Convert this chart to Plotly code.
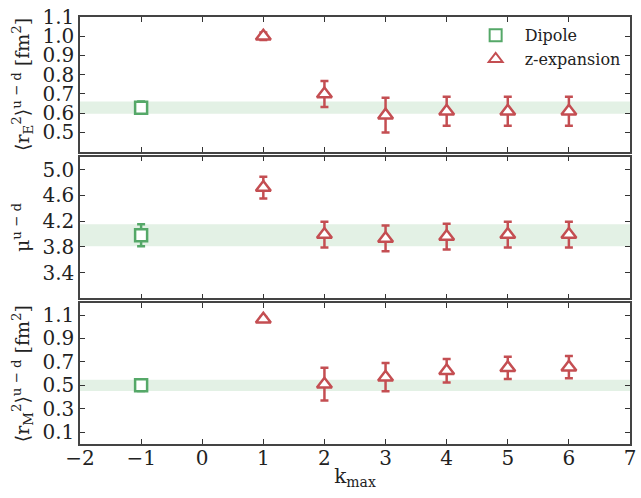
import plotly.graph_objects as go
from plotly.subplots import make_subplots

# ---- data ----
kmax = [1, 2, 3, 4, 5, 6]
dipole_x = [-1]

rE_dip = [0.629]
rE_dip_err = [0.032]
rE_z = [1.0, 0.70, 0.59, 0.61, 0.61, 0.61]
rE_z_err = [0.02, 0.068, 0.09, 0.075, 0.075, 0.075]

mu_dip = [3.98]
mu_dip_err = [0.17]
mu_z = [4.72, 3.99, 3.93, 3.96, 3.99, 3.99]
mu_z_err = [0.17, 0.20, 0.20, 0.20, 0.20, 0.20]

rM_dip = [0.50]
rM_dip_err = [0.047]
rM_z = [1.064, 0.51, 0.57, 0.625, 0.65, 0.655]
rM_z_err = [0.02, 0.14, 0.12, 0.10, 0.095, 0.095]

y_titles = ["⟨r<sub>E</sub><sup>2</sup>⟩<sup>u − d</sup> [fm<sup>2</sup>]",
            "μ<sup>u − d</sup>",
            "⟨r<sub>M</sub><sup>2</sup>⟩<sup>u − d</sup> [fm<sup>2</sup>]"]
y_ranges = [[0.4, 1.1], [3.0, 5.2], [0.0, 1.2]]
y_ticks = [[0.5, 0.6, 0.7, 0.8, 0.9, 1.0, 1.1],
           [3.4, 3.8, 4.2, 4.6, 5.0],
           [0.1, 0.3, 0.5, 0.7, 0.9, 1.1]]
x_ticks = [-2, -1, 0, 1, 2, 3, 4, 5, 6, 7]
x_ticktext = ["−2", "−1", "0", "1", "2", "3", "4", "5", "6", "7"]

GREEN = "#55a868"
RED = "#c44e52"
BAND = "#e3f1e5"
FONT = "DejaVu Serif"
TXT = "#222"

fig = make_subplots(rows=3, cols=1, shared_xaxes=True, vertical_spacing=0.01)

panels = [(rE_dip, rE_dip_err, rE_z, rE_z_err),
          (mu_dip, mu_dip_err, mu_z, mu_z_err),
          (rM_dip, rM_dip_err, rM_z, rM_z_err)]

for i, (dv, de, zv, ze) in enumerate(panels):
    row = i + 1
    fig.add_trace(go.Scatter(
        x=dipole_x, y=dv, mode="markers", name="Dipole", showlegend=(i == 0),
        marker=dict(symbol="square", size=12, color="white",
                    line=dict(color=GREEN, width=2.5)),
        error_y=dict(type="data", array=de, color=GREEN, thickness=2.5, width=4)),
        row=row, col=1)
    fig.add_trace(go.Scatter(
        x=kmax, y=zv, mode="markers", name="z-expansion", showlegend=(i == 0),
        marker=dict(symbol="triangle-up", size=13, color="white",
                    line=dict(color=RED, width=2.5)),
        error_y=dict(type="data", array=ze, color=RED, thickness=2.5, width=4)),
        row=row, col=1)
    yref = "y" if i == 0 else f"y{row}"
    xref = "x" if i == 0 else f"x{row}"
    fig.add_shape(type="rect", xref=f"{xref} domain", yref=yref,
                  x0=0, x1=1, y0=dv[0] - de[0], y1=dv[0] + de[0],
                  fillcolor=BAND, line=dict(width=0), layer="below")

domains = [[0.6845, 1.0], [0.3411, 0.6729], [0.0, 0.3295]]
for i in range(3):
    row = i + 1
    fig.update_yaxes(row=row, col=1, range=y_ranges[i], tickvals=y_ticks[i],
                     tickformat=".1f",
                     domain=domains[i], ticks="inside", ticklen=5, tickcolor="#333",
                     showline=True, linecolor="#444", linewidth=1.5, mirror="ticks",
                     showgrid=False, zeroline=False,
                     tickfont=dict(family=FONT, size=20, color=TXT),
                     title=dict(text=y_titles[i], standoff=8,
                                font=dict(family=FONT, size=19, color=TXT)))
    fig.update_xaxes(row=row, col=1, range=[-2, 7], tickvals=x_ticks,
                     ticktext=x_ticktext, ticklabeloverflow="allow",
                     ticks="inside", ticklen=5, tickcolor="#333",
                     showline=True, linecolor="#444", linewidth=1.5, mirror="ticks",
                     showgrid=False, zeroline=False,
                     showticklabels=(row == 3),
                     tickfont=dict(family=FONT, size=20, color=TXT))
fig.update_xaxes(row=3, col=1, ticklabelstandoff=-5,
                 title=dict(text="k<sub>max</sub>", standoff=0,
                            font=dict(family=FONT, size=20, color=TXT)))

fig.update_layout(
    width=641, height=498,
    margin=dict(l=80, r=5, t=13, b=54),
    paper_bgcolor="white", plot_bgcolor="white",
    legend=dict(x=0.703, y=0.997, xanchor="left", yanchor="top",
                bgcolor="rgba(0,0,0,0)", font=dict(family=FONT, size=16, color=TXT),
                itemsizing="constant", itemwidth=48, tracegroupgap=0),
)

fig.write_html("out.html", config={"displayModeBar": False},
               post_script="document.body.style.margin='0';")
